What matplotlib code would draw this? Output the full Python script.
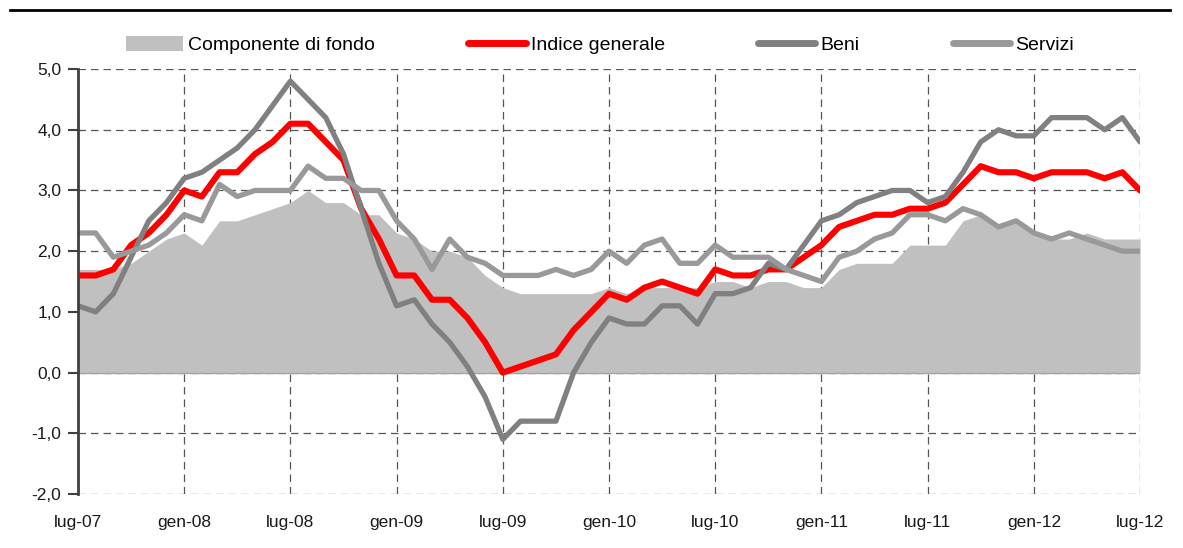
#!/usr/bin/env python3
"""
Inflazione: indice generale, beni, servizi e componente di fondo (lug-07 / lug-12).
"""

import numpy as np
import matplotlib
matplotlib.use('Agg')
import matplotlib.pyplot as plt
from matplotlib.lines import Line2D
from matplotlib.patches import Patch

# ===============================
# Data (monthly, lug-07 .. lug-12)
# ===============================
tick_labels = ['lug-07', 'gen-08', 'lug-08', 'gen-09', 'lug-09', 'gen-10',
               'lug-10', 'gen-11', 'lug-11', 'gen-12', 'lug-12']

componente_fondo = [1.7, 1.7, 1.7, 1.8, 2.0, 2.2, 2.3, 2.1, 2.5, 2.5,
                    2.6, 2.7, 2.8, 3.0, 2.8, 2.8, 2.6, 2.6, 2.3, 2.2,
                    2.0, 2.0, 1.9, 1.6, 1.4, 1.3, 1.3, 1.3, 1.3, 1.3,
                    1.4, 1.3, 1.4, 1.4, 1.4, 1.4, 1.5, 1.5, 1.4, 1.5,
                    1.5, 1.4, 1.4, 1.7, 1.8, 1.8, 1.8, 2.1, 2.1, 2.1,
                    2.5, 2.6, 2.4, 2.5, 2.3, 2.2, 2.2, 2.3, 2.2, 2.2,
                    2.2]

indice_generale = [1.6, 1.6, 1.7, 2.1, 2.3, 2.6, 3.0, 2.9, 3.3, 3.3,
                   3.6, 3.8, 4.1, 4.1, 3.8, 3.5, 2.7, 2.2, 1.6, 1.6,
                   1.2, 1.2, 0.9, 0.5, 0.0, 0.1, 0.2, 0.3, 0.7, 1.0,
                   1.3, 1.2, 1.4, 1.5, 1.4, 1.3, 1.7, 1.6, 1.6, 1.7,
                   1.7, 1.9, 2.1, 2.4, 2.5, 2.6, 2.6, 2.7, 2.7, 2.8,
                   3.1, 3.4, 3.3, 3.3, 3.2, 3.3, 3.3, 3.3, 3.2, 3.3,
                   3.0]

beni = [1.1, 1.0, 1.3, 1.9, 2.5, 2.8, 3.2, 3.3, 3.5, 3.7,
        4.0, 4.4, 4.8, 4.5, 4.2, 3.6, 2.7, 1.8, 1.1, 1.2,
        0.8, 0.5, 0.1, -0.4, -1.1, -0.8, -0.8, -0.8, 0.0, 0.5,
        0.9, 0.8, 0.8, 1.1, 1.1, 0.8, 1.3, 1.3, 1.4, 1.8,
        1.7, 2.1, 2.5, 2.6, 2.8, 2.9, 3.0, 3.0, 2.8, 2.9,
        3.3, 3.8, 4.0, 3.9, 3.9, 4.2, 4.2, 4.2, 4.0, 4.2,
        3.8]

servizi = [2.3, 2.3, 1.9, 2.0, 2.1, 2.3, 2.6, 2.5, 3.1, 2.9,
           3.0, 3.0, 3.0, 3.4, 3.2, 3.2, 3.0, 3.0, 2.5, 2.2,
           1.7, 2.2, 1.9, 1.8, 1.6, 1.6, 1.6, 1.7, 1.6, 1.7,
           2.0, 1.8, 2.1, 2.2, 1.8, 1.8, 2.1, 1.9, 1.9, 1.9,
           1.7, 1.6, 1.5, 1.9, 2.0, 2.2, 2.3, 2.6, 2.6, 2.5,
           2.7, 2.6, 2.4, 2.5, 2.3, 2.2, 2.3, 2.2, 2.1, 2.0,
           2.0]

# ===============================
# Style
# ===============================
plt.rcParams['font.family'] = ['Liberation Sans', 'DejaVu Sans']

col_fondo = '#c0c0c0'
col_indice = '#ff0000'
col_beni = '#808080'
col_servizi = '#999999'
col_grid = '#555555'

# ===============================
# Plot
# ===============================
fig = plt.figure(figsize=(11.83, 5.48), dpi=100)
ax = fig.add_axes([0.0659, 0.0985, 0.8978, 0.7755])

x = np.arange(len(indice_generale))

ax.fill_between(x, 0, componente_fondo, color=col_fondo, linewidth=0, zorder=2)
ax.axhline(0, color='#a6a6a6', linewidth=1, zorder=2.5)

ax.plot(x, indice_generale, color=col_indice, linewidth=4.4,
        solid_joinstyle='round', solid_capstyle='round', zorder=3)
ax.plot(x, beni, color=col_beni, linewidth=3.8,
        solid_joinstyle='round', solid_capstyle='round', zorder=4)
ax.plot(x, servizi, color=col_servizi, linewidth=3.8,
        solid_joinstyle='round', solid_capstyle='round', zorder=5)

# axes and grid
ax.set_xlim(0, 60)
ax.set_ylim(-2, 5)
ax.set_xticks(np.arange(0, 61, 6))
ax.set_xticklabels(tick_labels, fontsize=12.5)
ax.set_yticks(np.arange(-2, 6, 1))
ax.set_yticklabels([f'{v:.1f}'.replace('.', ',') for v in range(-2, 6)],
                   fontsize=12.5)

for s in ['top', 'right', 'bottom']:
    ax.spines[s].set_visible(False)
ax.spines['left'].set_color('#404040')
ax.spines['left'].set_linewidth(2)
ax.spines['left'].set_zorder(6)

ax.tick_params(axis='y', direction='out', length=7, width=1.5, color='#404040',
               pad=5, labelcolor='#1a1a1a')
ax.tick_params(axis='x', length=0, pad=15, labelcolor='#1a1a1a')

ax.set_axisbelow(True)
ax.grid(True, color=col_grid, linestyle=(0, (6, 4)), linewidth=0.9, zorder=0)

# top rule
fig.add_artist(Line2D([10 / 1183, 1170 / 1183], [1 - 10 / 548, 1 - 10 / 548],
                      color='black', linewidth=2))

# legend
handles = [
    Patch(facecolor=col_fondo, edgecolor='none'),
    Line2D([], [], color=col_indice, linewidth=5, solid_capstyle='round'),
    Line2D([], [], color=col_beni, linewidth=5, solid_capstyle='round'),
    Line2D([], [], color=col_servizi, linewidth=5, solid_capstyle='round'),
]
labels = ['Componente di fondo', 'Indice generale', 'Beni', 'Servizi']
fig.legend(handles, labels, loc='center left', bbox_to_anchor=(126 / 1183, 1 - 45 / 548),
           ncol=4, frameon=False, fontsize=14, handlelength=2.95,
           handleheight=0.8, handletextpad=0.25, columnspacing=4.8,
           borderpad=0, borderaxespad=0)

plt.savefig('out.png', dpi=100)
